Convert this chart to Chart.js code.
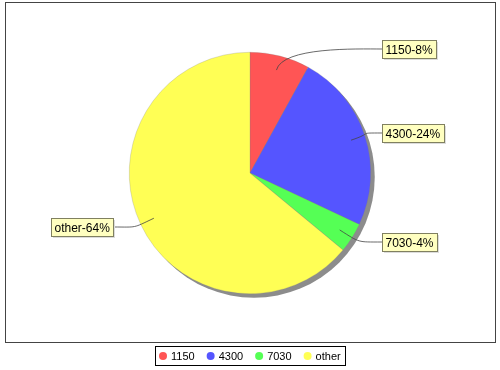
<!DOCTYPE html>
<html>
<head>
<meta charset="utf-8">
<script src="https://cdn.jsdelivr.net/npm/chart.js@4"></script>
<style>
  html, body { margin: 0; padding: 0; background: #fff; }
  #wrap { width: 500px; height: 370px; position: relative; }
</style>
</head>
<body>
<div id="wrap"><canvas id="pieChart" width="500" height="370"></canvas></div>
<script>
// Datos del gráfico
const categories = ['1150', '4300', '7030', 'other'];
const percentValues = [8, 24, 4, 64];
const sliceColors = ['#FF5555', '#5555FF', '#55FF55', '#FFFF55'];

const labelFont = '12px "Liberation Sans", Arial, sans-serif';
const legendFont = '11px "Liberation Sans", Arial, sans-serif';

// Sombra del pastel, borde del área y etiquetas con líneas curvas
const jfreeStyle = {
    id: 'jfreeStyle',
    beforeDatasetsDraw(chart) {
        const arc = chart.getDatasetMeta(0).data[0];
        if (!arc) return;
        const ctx = chart.ctx;
        ctx.save();
        ctx.fillStyle = '#8c8c8c';
        ctx.beginPath();
        ctx.arc(arc.x + 4, arc.y + 4, arc.outerRadius, 0, Math.PI * 2);
        ctx.fill();
        ctx.restore();
    },
    afterDraw(chart) {
        const ctx = chart.ctx;
        const meta = chart.getDatasetMeta(0);
        const total = percentValues.reduce((a, b) => a + b, 0);

        // Borde del área del gráfico
        ctx.save();
        ctx.strokeStyle = '#444444';
        ctx.lineWidth = 1;
        ctx.strokeRect(5.5, 2.5, 490, 340);

        // Etiquetas
        ctx.font = labelFont;
        ctx.textBaseline = 'middle';
        meta.data.forEach((arc, i) => {
            const mid = (arc.startAngle + arc.endAngle) / 2;
            const r = arc.outerRadius;
            const cx = arc.x, cy = arc.y;
            const right = Math.cos(mid) >= 0;
            const text = categories[i] + '-' + Math.round(percentValues[i] / total * 100) + '%';
            const tw = ctx.measureText(text).width;
            const bw = Math.round(tw + 7), bh = 18;
            const ly = Math.round(cy + Math.sin(mid) * r * 1.06);
            const bx = Math.round(right ? cx + r * 1.1 - 1 : cx - r * 1.1 - 4 - bw);
            const tx = right ? bx : bx + bw;

            // línea de enlace
            const ax = cx + Math.cos(mid) * r * 0.88;
            const ay = cy + Math.sin(mid) * r * 0.88;
            const ex = cx + Math.cos(mid) * r * 1.08;
            const ey = cy + Math.sin(mid) * r * 1.08;
            ctx.strokeStyle = '#444444';
            ctx.lineWidth = 0.8;
            ctx.beginPath();
            ctx.moveTo(ax, ay);
            ctx.bezierCurveTo(ex, ey, right ? tx - 25 : tx + 25, ly, tx, ly);
            ctx.stroke();

            // sombra de la etiqueta
            ctx.fillStyle = '#dcdcdc';
            ctx.fillRect(bx + 2, ly - bh / 2 + 2, bw, bh);
            // caja
            ctx.fillStyle = '#FFFFC0';
            ctx.fillRect(bx, ly - bh / 2, bw, bh);
            ctx.strokeStyle = '#808060';
            ctx.lineWidth = 1;
            ctx.strokeRect(bx + 0.5, ly - bh / 2 + 0.5, bw, bh);
            ctx.fillStyle = '#000000';
            ctx.textAlign = 'left';
            ctx.fillText(text, bx + 3.5, ly + 1.5);
        });

        // Leyenda
        ctx.font = legendFont;
        const gap = 12, mark = 8;
        const widths = categories.map(c => mark + 4 + ctx.measureText(c).width);
        const innerW = widths.reduce((a, b) => a + b, 0) + gap * (categories.length - 1);
        const lw = Math.round(innerW + 8), lh = 19;
        const lx = Math.round(250 - lw / 2), lyy = 346;
        ctx.fillStyle = '#ffffff';
        ctx.fillRect(lx, lyy, lw, lh);
        ctx.strokeStyle = '#000000';
        ctx.strokeRect(lx + 0.5, lyy + 0.5, lw, lh);
        let x = lx + 4;
        categories.forEach((c, i) => {
            ctx.fillStyle = sliceColors[i];
            ctx.beginPath();
            ctx.arc(x + mark / 2, lyy + lh / 2 + 0.5, mark / 2, 0, Math.PI * 2);
            ctx.fill();
            ctx.fillStyle = '#000000';
            ctx.textAlign = 'left';
            ctx.fillText(c, x + mark + 4, lyy + lh / 2 + 1);
            x += widths[i] + gap;
        });
        ctx.restore();
    }
};

const ctxPie = document.getElementById('pieChart').getContext('2d');
const pieChart = new Chart(ctxPie, {
    type: 'pie',
    data: {
        labels: categories,
        datasets: [{
            data: percentValues,
            backgroundColor: sliceColors,
            borderColor: 'rgba(128,128,128,0.5)',
            borderWidth: 0.5
        }]
    },
    options: {
        responsive: false,
        animation: false,
        events: [],
        layout: { padding: { left: 129, right: 129, top: 52, bottom: 76 } },
        plugins: {
            legend: { display: false },
            tooltip: { enabled: false }
        }
    },
    plugins: [jfreeStyle]
});
</script>
</body>
</html>
